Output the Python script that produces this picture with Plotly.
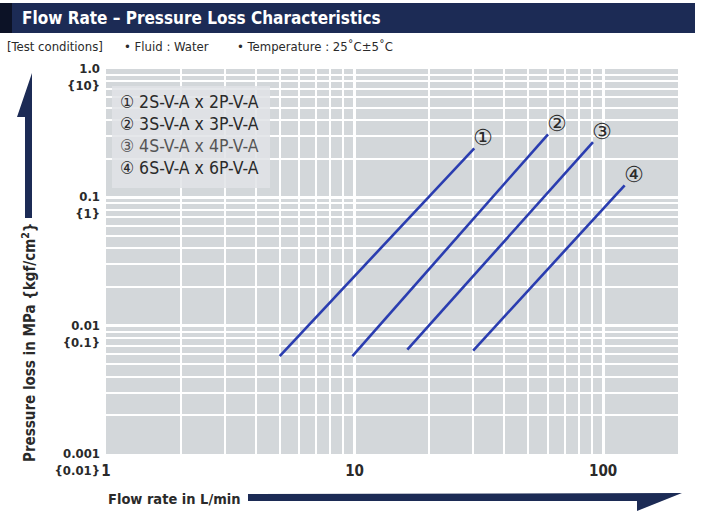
import math
import plotly.graph_objects as go

# ---------------- data ----------------
legend_labels = ["① 2S-V-A x 2P-V-A", "② 3S-V-A x 3P-V-A",
                 "③ 4S-V-A x 4P-V-A", "④ 6S-V-A x 6P-V-A"]
series_marks = ["①", "②", "③", "④"]

flow_1 = [5.0, 30.3]
loss_1 = [0.0058, 0.241]
flow_2 = [9.8, 60.0]
loss_2 = [0.0058, 0.31]
flow_3 = [16.3, 91.0]
loss_3 = [0.0065, 0.269]
flow_4 = [30.0, 122.0]
loss_4 = [0.0064, 0.124]

x_tick_vals = [1, 10, 100]
x_tick_text = ["1", "10", "100"]
y_tick_vals = [0.001, 0.01, 0.1, 1.0]
y_tick_text = ["0.001<br>{0.01}", "0.01<br>{0.1}", "0.1<br>{1}", "1.0<br>{10}"]

title_text = "Flow Rate – Pressure Loss Characteristics"
cond_texts = ["[Test conditions]", "• Fluid : Water", "• Temperature : 25˚C±5˚C"]
x_title = "Flow rate in L/min"
y_title = "Pressure loss in MPa {kgf/cm<sup>2</sup>}"

# ---------------- layout helpers ----------------
W, H = 710, 513
L, R, T, B = 106, 678, 69, 454
PW, PH = R - L, B - T


def px(x):
    return (x - L) / PW


def py(y):
    return (B - y) / PH


FONT = "DejaVu Sans Condensed, Liberation Sans Narrow, Arial Narrow, sans-serif"
NAVY = "#1c2b55"
LINE_BLUE = "#2a3db0"
TXT = "#2a2a2a"

minor_x = [m * d for d in (1, 10, 100) for m in range(2, 10) if m * d <= 200]
minor_y = [m * d for d in (0.001, 0.01, 0.1) for m in range(2, 10)]

fig = go.Figure()
flows = [flow_1, flow_2, flow_3, flow_4]
losses = [loss_1, loss_2, loss_3, loss_4]
for name, fx, ly in zip(series_marks, flows, losses):
    fig.add_trace(go.Scatter(x=fx, y=ly, mode="lines", name=name,
                             line=dict(color=LINE_BLUE, width=2.6),
                             showlegend=False, hoverinfo="skip"))

annotations = []
# circled numbers at the line ends (log axes: annotation positions in log10 units)
for name, fx, ly in zip(series_marks, flows, losses):
    annotations.append(dict(x=math.log10(fx[-1]), y=math.log10(ly[-1]), xref="x", yref="y",
                            text=name, showarrow=False, xanchor="center", yanchor="middle",
                            xshift=9, yshift=11,
                            font=dict(family="DejaVu Sans, Noto Sans CJK JP", size=22, color=TXT)))

# title text
annotations.append(dict(x=px(20), y=py(18), xref="paper", yref="paper", text="<b>" + title_text + "</b>",
                        showarrow=False, xanchor="left", yanchor="middle",
                        font=dict(family=FONT, size=17, color="white")))
# test conditions
for t, x0 in zip(cond_texts, [5, 122, 235]):
    annotations.append(dict(x=px(x0), y=py(47), xref="paper", yref="paper", text=t,
                            showarrow=False, xanchor="left", yanchor="middle",
                            font=dict(family=FONT, size=13, color=TXT)))
# legend box texts
for i, t in enumerate(legend_labels):
    annotations.append(dict(x=px(118), y=py(102 + 22 * i), xref="paper", yref="paper", text=t,
                            showarrow=False, xanchor="left", yanchor="middle",
                            font=dict(family=FONT, size=17.5, color="#555555" if i == 2 else TXT)))
# axis titles
annotations.append(dict(x=px(106), y=py(499), xref="paper", yref="paper", text="<b>" + x_title + "</b>",
                        showarrow=False, xanchor="left", yanchor="middle",
                        font=dict(family=FONT, size=14.5, color=TXT)))
annotations.append(dict(x=px(29), y=py(343), xref="paper", yref="paper", text="<b>" + y_title + "</b>",
                        showarrow=False, xanchor="center", yanchor="middle", textangle=-90,
                        font=dict(family=FONT, size=15, color=TXT)))

shapes = []
# title bar
shapes.append(dict(type="rect", xref="paper", yref="paper", x0=px(0), x1=px(695), y0=py(33), y1=py(3),
                   fillcolor=NAVY, line=dict(width=0), layer="below"))
shapes.append(dict(type="rect", xref="paper", yref="paper", x0=px(0), x1=px(12), y0=py(33), y1=py(3),
                   fillcolor="#0c1226", line=dict(width=0), layer="below"))
# legend box
shapes.append(dict(type="rect", xref="paper", yref="paper", x0=px(112), x1=px(270), y0=py(188), y1=py(86),
                   fillcolor="rgba(224,227,230,0.85)", line=dict(width=0), layer="above"))


def path(points):
    return "M " + " L ".join(f"{px(a):.5f},{py(b):.5f}" for a, b in points) + " Z"


# vertical arrow
shapes.append(dict(type="path", xref="paper", yref="paper",
                   path=path([(32, 73), (17, 117), (25, 117), (25, 218), (32, 218)]),
                   fillcolor=NAVY, line=dict(width=0)))
# horizontal arrow
shapes.append(dict(type="path", xref="paper", yref="paper",
                   path=path([(248, 494), (682, 493), (637, 511), (637, 501), (248, 501)]),
                   fillcolor=NAVY, line=dict(width=0)))

fig.update_layout(
    width=W, height=H,
    margin=dict(l=L, r=W - R, t=T, b=H - B),
    paper_bgcolor="white", plot_bgcolor="#d3d7da",
    font=dict(family=FONT, color=TXT),
    annotations=annotations, shapes=shapes,
    showlegend=False,
)
fig.update_xaxes(type="log", range=[0, 2.30103], tickmode="array", tickvals=x_tick_vals,
                 ticktext=["<b>" + t + "</b>" for t in x_tick_text],
                 tickfont=dict(family=FONT, size=15, color=TXT),
                 showgrid=True, gridcolor="white", gridwidth=2.5, zeroline=False,
                 showline=False, ticks="", ticklabelstandoff=6,
                 minor=dict(tickmode="array", tickvals=minor_x, showgrid=True,
                            gridcolor="white", gridwidth=2))
fig.update_yaxes(type="log", range=[-3, 0], tickmode="array", tickvals=y_tick_vals,
                 ticktext=["<b>" + t + "</b>" for t in y_tick_text],
                 tickfont=dict(family=FONT, size=13, color=TXT),
                 showgrid=True, gridcolor="white", gridwidth=2.5, zeroline=False,
                 showline=False, ticks="", ticklabelstandoff=5, ticklabelshift=8,
                 minor=dict(tickmode="array", tickvals=minor_y, showgrid=True,
                            gridcolor="white", gridwidth=2))

fig.write_html("out.html", config={"displayModeBar": False},
               post_script="document.body.style.margin='0';")
